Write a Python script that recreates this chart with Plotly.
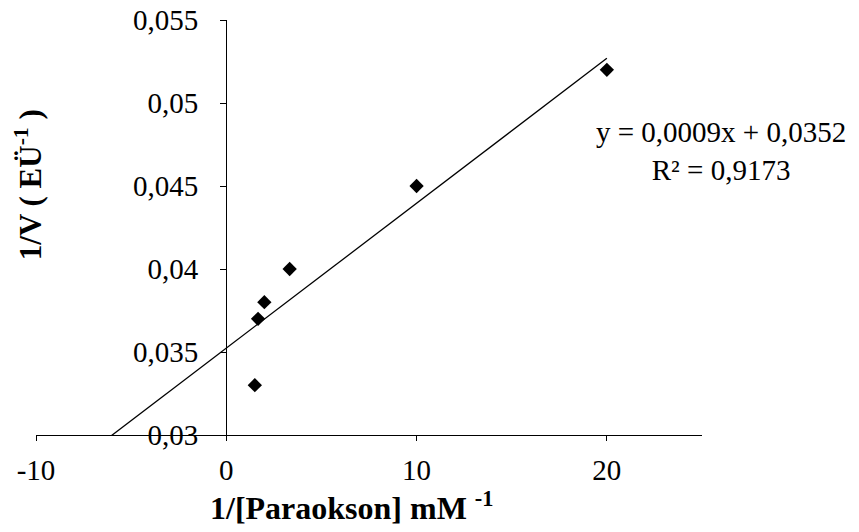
import numpy as np
import plotly.graph_objects as go

# Data (1/[S] in mM^-1, 1/V)
inv_substrate = [1.5, 1.67, 2.0, 3.33, 10.0, 20.0]
inv_velocity = [0.033, 0.037, 0.038, 0.040, 0.045, 0.052]

x_tickvals = [-10, 0, 10, 20]
x_ticktext = ["-10", "0", "10", "20"]
y_tickvals = [0.03, 0.035, 0.04, 0.045, 0.05, 0.055]
y_ticktext = ["0,03", "0,035", "0,04", "0,045", "0,05", "0,055"]

equation_text = "y = 0,0009x + 0,0352<br>R² = 0,9173"
x_title = "<b>1/[Paraokson] mM <sup>-1</sup></b>"
y_title = "<b>1/V ( EÜ<sup>-1</sup> )</b>"

# Linear trendline (least squares) with backward forecast
slope, intercept = np.polyfit(inv_substrate, inv_velocity, 1)
trend_x = np.array([-8.0, max(inv_substrate)])
trend_y = slope * trend_x + intercept

FONT = "Liberation Serif, Times New Roman, serif"

fig = go.Figure()
fig.add_trace(go.Scatter(
    x=trend_x, y=trend_y, mode="lines",
    line=dict(color="black", width=1.3), showlegend=False, hoverinfo="skip"))
fig.add_trace(go.Scatter(
    x=inv_substrate, y=inv_velocity, mode="markers",
    marker=dict(symbol="diamond", size=11, color="black"),
    showlegend=False))

# page body has an 8px default margin; figure sized to compensate
fig.update_layout(
    width=851, height=524,
    margin=dict(l=28, r=157, t=12, b=97, autoexpand=False),
    paper_bgcolor="white", plot_bgcolor="white",
    font=dict(family=FONT, size=29, color="black"),
    xaxis=dict(
        range=[-10, 25], tickvals=x_tickvals, ticktext=x_ticktext,
        showline=True, linecolor="black", linewidth=1.3,
        ticks="outside", ticklen=5, tickwidth=1.3, tickcolor="black",
        showgrid=False, zeroline=False, ticklabelstandoff=4, automargin=False,
        ticklabeloverflow="allow",
        tickfont=dict(family=FONT, size=29, color="black")),
    yaxis=dict(
        range=[0.03, 0.055], tickvals=y_tickvals, ticktext=y_ticktext,
        anchor="free", position=10 / 35,
        showline=True, linecolor="black", linewidth=1.3,
        ticks="outside", ticklen=6, tickwidth=1.3, tickcolor="black",
        showgrid=False, zeroline=False, ticklabelstandoff=16, automargin=False,
        ticklabeloverflow="allow",
        tickfont=dict(family=FONT, size=29, color="black")),
    annotations=[
        dict(text=x_title, xref="paper", yref="paper", x=0.4745, y=-0.171,
             xanchor="center", yanchor="middle", showarrow=False,
             font=dict(family=FONT, size=32, color="black")),
        dict(text=y_title, xref="paper", yref="paper", x=-0.012, y=0.602,
             xanchor="center", yanchor="middle", showarrow=False, textangle=-90,
             font=dict(family=FONT, size=31, color="black")),
        dict(text=equation_text, xref="paper", yref="paper", x=1.0285, y=0.684,
             xanchor="center", yanchor="middle", showarrow=False, align="center",
             font=dict(family=FONT, size=29, color="black")),
    ],
)

fig.write_html("out.html")
